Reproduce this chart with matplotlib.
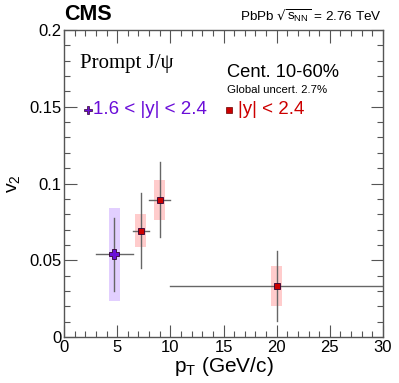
import matplotlib.pyplot as plt
from matplotlib.patches import Rectangle
from matplotlib.ticker import MultipleLocator

plt.rcParams['font.family'] = ['Liberation Sans', 'DejaVu Sans']

# forward rapidity, 1.6 < |y| < 2.4
fwd_pt = [4.73]
fwd_v2 = [0.054]
fwd_xlo = [3.0]
fwd_xhi = [6.5]
fwd_stat_lo = [0.0773]
fwd_stat_hi = [0.0302]
fwd_sys_lo = [0.0235]
fwd_sys_hi = [0.084]

# mid rapidity, |y| < 2.4
mid_pt = [7.2, 9.0, 20.0]
mid_v2 = [0.0693, 0.0892, 0.0332]
mid_xlo = [6.5, 8.0, 10.0]
mid_xhi = [8.0, 10.0, 30.0]
mid_stat_lo = [0.0452, 0.065, 0.0106]
mid_stat_hi = [0.0936, 0.1138, 0.056]
mid_sys_lo = [0.0584, 0.0764, 0.0204]
mid_sys_hi = [0.080, 0.1023, 0.0463]

fig = plt.figure(figsize=(3.99, 3.83), dpi=100)
ax = fig.add_axes([64 / 399, 1 - 337 / 383, 319 / 399, 307 / 383])

box_w = 0.5


def draw_points(pt, v2, xlo, xhi, slo, shi, ylo, yhi, box_col, face, marker, ms):
    for i in range(len(pt)):
        ax.add_patch(Rectangle((pt[i] - box_w, ylo[i]), 2 * box_w, yhi[i] - ylo[i],
                               facecolor=box_col, edgecolor='none', zorder=1))
        ax.plot([xlo[i], xhi[i]], [v2[i], v2[i]], color='#666666', lw=1.0, zorder=2)
        y1, y2 = sorted([slo[i], shi[i]])
        ax.plot([pt[i], pt[i]], [y1, y2], color='#666666', lw=1.0, zorder=2)
    ax.plot(pt, v2, ls='none', marker=marker, ms=ms, mfc=face, mec='#330033',
            mew=0.6, zorder=3)


draw_points(fwd_pt, fwd_v2, fwd_xlo, fwd_xhi, fwd_stat_lo, fwd_stat_hi,
            fwd_sys_lo, fwd_sys_hi, '#e2cfff', '#6a0dd8', 'P', 7)
draw_points(mid_pt, mid_v2, mid_xlo, mid_xhi, mid_stat_lo, mid_stat_hi,
            mid_sys_lo, mid_sys_hi, '#ffcccc', '#cc0000', 's', 5)

ax.set_xlim(0, 30)
ax.set_ylim(0, 0.2)
ax.xaxis.set_major_locator(MultipleLocator(5))
ax.xaxis.set_minor_locator(MultipleLocator(1))
ax.yaxis.set_major_locator(MultipleLocator(0.05))
ax.yaxis.set_minor_locator(MultipleLocator(0.01))
ax.set_xticks([0, 5, 10, 15, 20, 25, 30])
ax.set_xticklabels(['0', '5', '10', '15', '20', '25', '30'])
ax.set_yticks([0, 0.05, 0.1, 0.15, 0.2])
ax.set_yticklabels(['0', '0.05', '0.1', '0.15', '0.2'])
ax.tick_params(which='both', direction='in', top=True, right=True,
               labelsize=12, color='#555555', width=0.8)
ax.tick_params(which='major', length=9, pad=2)
ax.tick_params(which='minor', length=4.5)
for s in ax.spines.values():
    s.set_color('#555555')
    s.set_linewidth(1.0)

ax.set_xlabel('p$_{\\mathregular{T}}$ (GeV/c)', fontsize=15, labelpad=0)
ax.set_ylabel('v$_{\\mathregular{2}}$', fontsize=14, labelpad=4)

fig.text(64 / 399, 1 - 14 / 383, 'CMS', fontsize=15.5, fontweight='bold',
         va='center', ha='left')
fig.text(382 / 399, 1 - 16 / 383,
         'PbPb $\\sqrt{\\mathregular{s}_{\\mathregular{NN}}}$ = 2.76 TeV',
         fontsize=9.7, va='center', ha='right')
ax.text(0.05, 0.89, 'Prompt J/\u03c8', transform=ax.transAxes, fontsize=15,
        family='Liberation Serif', va='center', ha='left')
ax.text(0.51, 0.862, 'Cent. 10-60%', transform=ax.transAxes, fontsize=13.2,
        va='center', ha='left')
ax.text(0.51, 0.805, 'Global uncert. 2.7%', transform=ax.transAxes, fontsize=8.2,
        va='center', ha='left')

ax.plot([0.075], [0.74], transform=ax.transAxes, marker='P', ms=6,
        mfc='#6a0dd8', mec='#330033', mew=0.5, ls='none', clip_on=False)
ax.text(0.09, 0.74, '1.6 < |y| < 2.4', transform=ax.transAxes, fontsize=13.5,
        color='#6a0dd8', va='center', ha='left')
ax.plot([0.518], [0.74], transform=ax.transAxes, marker='s', ms=4.5,
        mfc='#cc0000', mec='#660000', mew=0.5, ls='none', clip_on=False)
ax.text(0.544, 0.74, '|y| < 2.4', transform=ax.transAxes, fontsize=13.5,
        color='#cc0000', va='center', ha='left')

fig.savefig('out.png', dpi=100)
plt.close(fig)
